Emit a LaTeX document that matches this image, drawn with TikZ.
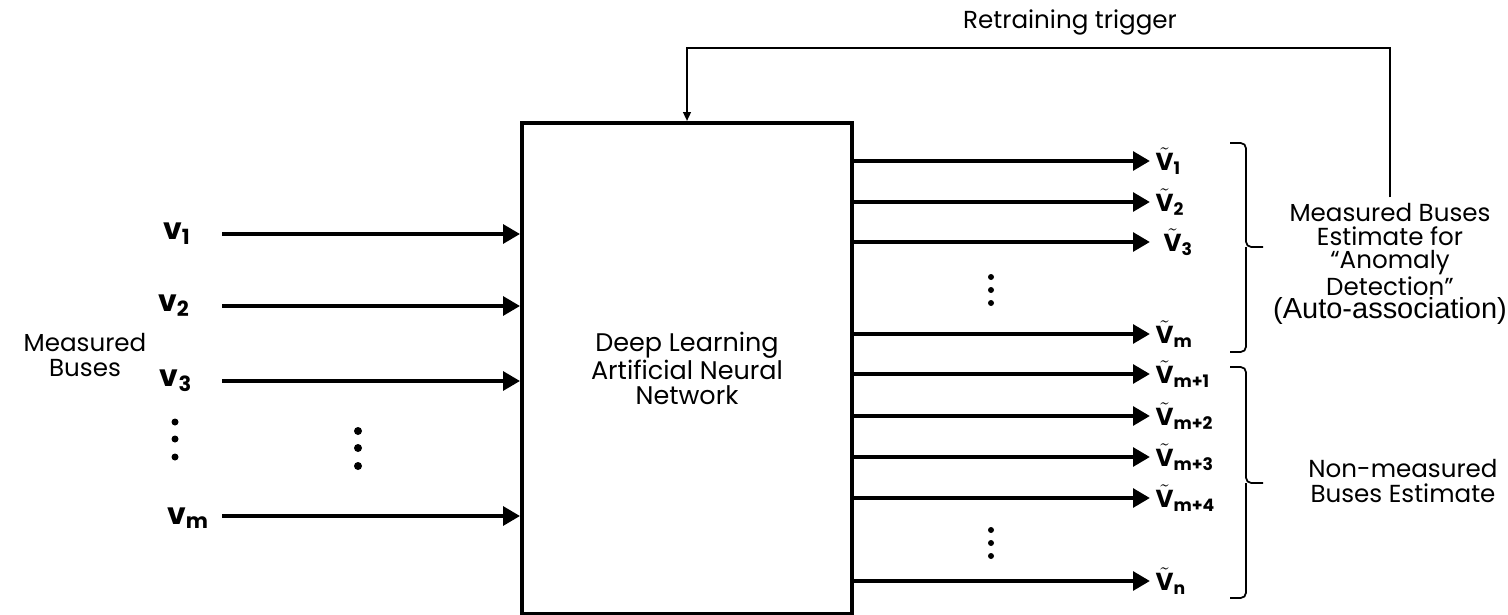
\documentclass[tikz,border=0pt]{standalone}
\usepackage{fontspec}
\setmainfont{Poppins}
\newfontfamily\arialfont{Liberation Sans}
\usetikzlibrary{arrows.meta}

\newcommand{\vin}[1]{\fontsize{17}{19}\selectfont\textbf{v}\textsubscript{\textbf{#1}}}
\newcommand{\vout}[1]{\fontsize{14}{16}\selectfont$\tilde{\mbox{\bfseries V}}$\textsubscript{\textbf{#1}}}

\begin{document}
\begin{tikzpicture}[x=0.02cm, y=-0.02cm,
    arr/.style={line width=2.8pt, -{Triangle[length=0.34cm, width=0.37cm]}},
    txt/.style={align=center, font=\fontsize{14}{14}\selectfont},
    brc/.style={line width=1pt, rounded corners=3pt}]
  \useasboundingbox (0,0) rectangle (1508,615);

  % network block
  \node[draw, line width=2.2pt, minimum width=6.6cm, minimum height=9.82cm,
        txt, font=\fontsize{14.5}{14.5}\selectfont] (dnn) at (687,368.5)
        {Deep Learning\\Artificial Neural\\Network};

  % measured inputs
  \node (v1) at (177,234) {\vin{1}};
  \node (v2) at (174,306) {\vin{2}};
  \node (v3) at (176,381) {\vin{3}};
  \node (vm) at (188,518) {\vin{m}};
  \foreach \i/\y in {1/234,2/306,3/381,m/516}{
    \coordinate (s\i) at (222,\y);
    \draw[arr] (s\i) -- (s\i -| dnn.west);
  }
  \foreach \y in {422,439,457} \fill (175,\y) circle (0.07cm);
  \foreach \y in {431,448,466} \fill (358,\y) circle (0.08cm);
  \node[txt] (mbl) at (85,355) {Measured\\Buses};

  % estimated outputs
  \foreach \k/\i/\y/\dx in {1/1/161/0,2/2/202/0,3/3/242/8,4/m/334/0,5/m+1/374/0,
                            6/m+2/416/0,7/m+3/457/0,8/m+4/498/0,9/n/581/0}{
    \node[anchor=west, inner xsep=3pt, inner ysep=0pt] (o\k) at (1150+\dx,\y) {\vout{\i}};
    \draw[arr] (dnn.east |- o\k.west) -- (1150,\y);
  }
  \foreach \y in {277,290,303,530,543,556} \fill (991,\y) circle (0.06cm);

  % groups
  \draw[brc] (1230,143) -| (1246,247) -- (1263,247);
  \draw[brc] (1230,352) -| (1246,247);
  \draw[brc] (1230,367) -| (1246,483) -- (1263,483);
  \draw[brc] (1230,598) -| (1246,483);
  \node[txt, font=\fontsize{14}{13.2}\selectfont] (mb) at (1390,264)
    {Measured Buses\\Estimate for\\“Anomaly\\Detection”\\{\arialfont\fontsize{16.5}{13.2}\selectfont (Auto-association)}};
  \node[txt, font=\fontsize{14}{14.5}\selectfont] (nm) at (1403,481) {Non-measured\\Buses Estimate};

  % retraining loop
  \node[txt] (trig) at (1070,22) {Retraining trigger};
  \coordinate (fb) at (1070,48);
  \draw[line width=1.6pt, -{Triangle[length=0.18cm, width=0.15cm]}]
    (mb.north) |- (fb) -| (dnn.north);
\end{tikzpicture}
\end{document}
